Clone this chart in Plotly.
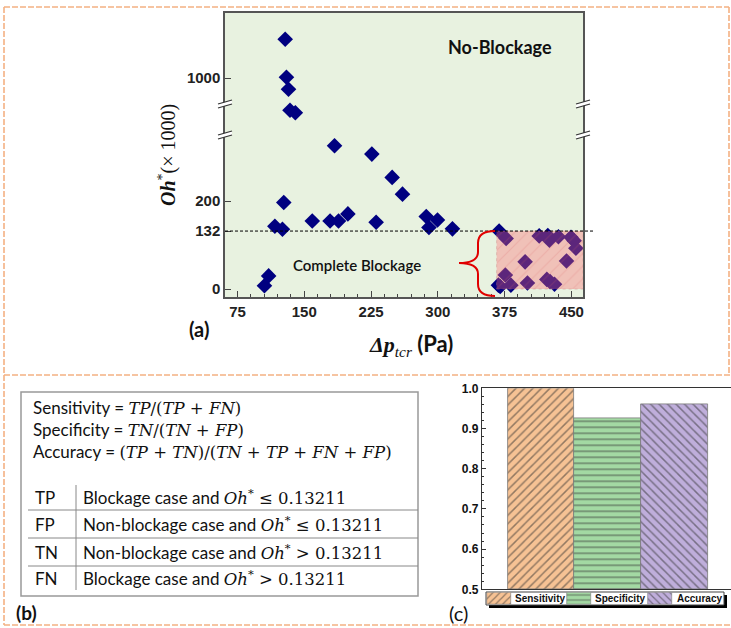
import numpy as np
import plotly.graph_objects as go

W, H = 731, 628

# ---------------- data: panel (a) ----------------
nonblock_dp = [128.6, 130.0, 132.3, 134.0, 140.0, 184.0, 225.9, 248.7, 260.3, 127.0,
               117.0, 125.5, 159.0, 179.0, 188.5, 199.0, 230.7, 287.0, 290.0, 299.6,
               316.4, 105.3, 110.0]
nonblock_oh = [1487, 1010, 859, 610, 583, 326, 307, 254, 216, 197,
               143, 136, 155, 155, 155, 171, 152, 165, 140, 157,
               137, 7.5, 30]
block_dp = [368.8, 376.7, 413.8, 423.5, 425.3, 435.4, 449.5, 453.0, 455.0, 398.0,
            444.5, 375.8, 368.0, 370.0, 382.0, 400.6, 422.4, 426.0, 431.0]
block_oh = [132, 115, 121, 122, 111, 119, 118, 110, 93, 62,
            64, 32, 9, 6, 9, 14, 22, 17, 11]
oh_threshold = 132
blockage_dp_min = 366
x_tick_vals = [75, 150, 225, 300, 375, 450]
y_tick_vals = [0, 132, 200, 1000]
y_tick_text = ["0", "132", "200", "1000"]

# ---------------- data: panel (c) ----------------
metrics = ["Sensitivity", "Specificity", "Accuracy"]
scores = [1.0, 0.925, 0.959]
bar_fill = ["#f6c294", "#a3d9a3", "#bfaedb"]
bar_pattern = ["/", "-", "\\"]

# ---------------- broken y-axis scale (piecewise linear) ----------------
AX_VAL = [0, 353, 700, 1000, 2000]
AX_POS = [0, 353, 425.6, 480, 661.3]


def yscale(v):
    return np.interp(np.asarray(v, dtype=float), AX_VAL, AX_POS)


X_RANGE = [61, 463]
Y_RANGE = [-18, 628]


def px(x):
    return x / W


def py(y):
    return 1 - y / H


fig = go.Figure()

# markers
fig.add_trace(go.Scatter(x=nonblock_dp, y=yscale(nonblock_oh), mode="markers",
                         marker=dict(symbol="diamond", size=12, color="#000080"),
                         showlegend=False, xaxis="x", yaxis="y"))
fig.add_trace(go.Scatter(x=block_dp, y=yscale(block_oh), mode="markers",
                         marker=dict(symbol="diamond", size=12, color="#000080"),
                         showlegend=False, xaxis="x", yaxis="y"))

# blockage region overlay (pink hatched)
rx = [blockage_dp_min, X_RANGE[1], X_RANGE[1], blockage_dp_min, blockage_dp_min]
ry = [Y_RANGE[0], Y_RANGE[0], oh_threshold, oh_threshold, Y_RANGE[0]]
fig.add_trace(go.Scatter(x=rx, y=yscale(ry), mode="lines", fill="toself",
                         line=dict(width=0.6, color="rgba(200,120,120,0.6)", dash="dot"),
                         fillcolor="rgba(255,105,115,0.36)",
                         fillpattern=dict(shape="/", bgcolor="rgba(255,105,115,0.36)",
                                          fgcolor="rgba(215,100,100,0.4)", size=9, solidity=0.12),
                         hoverinfo="skip", showlegend=False, xaxis="x", yaxis="y"))

# bars panel (c)
for i, (m, s) in enumerate(zip(metrics, scores)):
    fig.add_trace(go.Bar(x=[i], y=[s - 0.5], base=0.5, name=m, width=1, showlegend=False,
                         marker=dict(color=bar_fill[i], line=dict(color="#7a7a7a", width=0.8),
                                     pattern=dict(shape=bar_pattern[i], fgcolor="#303030",
                                                  bgcolor=bar_fill[i], size=6, solidity=0.25)),
                         xaxis="x2", yaxis="y2"))

# custom legend swatches for (c)
LEG_BOX = (486, 592, 724, 605)
swatch_left = [487, 567, 648]
swatch_w = 23.5
text_left = [513, 593, 675]
for i, m in enumerate(metrics):
    fig.add_trace(go.Bar(x=[swatch_left[i] + swatch_w / 2], y=[1], base=0, width=swatch_w,
                         showlegend=False, hoverinfo="skip",
                         marker=dict(color=bar_fill[i], line=dict(color="#7a7a7a", width=0.6),
                                     pattern=dict(shape=bar_pattern[i], fgcolor="#303030",
                                                  bgcolor=bar_fill[i], size=5, solidity=0.25)),
                         xaxis="x3", yaxis="y3"))

shapes = []
# green background of (a)
shapes.append(dict(type="rect", xref="x domain", yref="y domain", x0=0, x1=1, y0=0, y1=1,
                   fillcolor="#e8f2e0", line=dict(width=0), layer="below"))
# threshold dashed line
shapes.append(dict(type="line", xref="x domain", yref="y", x0=0, x1=(593 - 225) / 358,
                   y0=float(yscale(oh_threshold)), y1=float(yscale(oh_threshold)),
                   line=dict(color="black", width=1, dash="3px,2px")))

# break marks on y axes
for cx in (225, 583):
    for cy in (103, 134):
        pts = [(cx - 7, cy + 1), (cx + 7, cy - 3), (cx + 7, cy + 1), (cx - 7, cy + 5)]
        path = "M" + " L".join(f"{px(a):.5f},{py(b):.5f}" for a, b in pts) + " Z"
        shapes.append(dict(type="path", xref="paper", yref="paper", path=path,
                           fillcolor="white", line=dict(width=0)))
        for dy in (0, 4):
            shapes.append(dict(type="line", xref="paper", yref="paper",
                               x0=px(cx - 7), y0=py(cy + 1 + dy), x1=px(cx + 7), y1=py(cy - 3 + dy),
                               line=dict(color="#333", width=1.2)))

# red brace
bp = [("M", 495, 231), ("Q", 478, 231, 478, 243), ("L", 478, 252), ("Q", 478, 263, 459, 263),
      ("Q", 478, 263, 478, 274), ("L", 478, 284), ("Q", 478, 296, 495, 296)]
bpath = ""
for seg in bp:
    cmd = seg[0]
    coords = seg[1:]
    parts = [f"{px(coords[k]):.5f},{py(coords[k + 1]):.5f}" for k in range(0, len(coords), 2)]
    bpath += cmd + " ".join(parts) + " "
shapes.append(dict(type="path", xref="paper", yref="paper", path=bpath.strip(),
                   line=dict(color="#e00000", width=2)))

# dashed panel borders
dash_col = "#f4b183"
for (x0, y0, x1, y1) in [(4, 7, 729, 7), (4, 7, 4, 375), (729, 7, 729, 375), (4, 375, 731, 375),
                         (4, 375, 4, 625), (4, 625, 731, 625)]:
    shapes.append(dict(type="line", xref="paper", yref="paper", x0=px(x0), y0=py(y0),
                       x1=px(x1), y1=py(y1), line=dict(color=dash_col, width=1.6, dash="6px,2px")))

# table (b)
shapes.append(dict(type="rect", xref="paper", yref="paper", x0=px(21), y0=py(392), x1=px(418), y1=py(596),
                   line=dict(color="#999", width=1.5)))
for yy in (510, 538, 566):
    shapes.append(dict(type="line", xref="paper", yref="paper", x0=px(28), x1=px(418), y0=py(yy), y1=py(yy),
                       line=dict(color="#888", width=1)))
shapes.append(dict(type="line", xref="paper", yref="paper", x0=px(76), x1=px(76), y0=py(485), y1=py(590),
                   line=dict(color="#888", width=1)))

# legend box + shadow (c)
bx0, by0, bx1, by1 = LEG_BOX
shapes.append(dict(type="rect", xref="paper", yref="paper", x0=px(bx0 + 3), x1=px(bx1 + 3),
                   y0=py(by0 + 3), y1=py(by1 + 3), fillcolor="black", line=dict(width=0), layer="below"))
shapes.append(dict(type="rect", xref="paper", yref="paper", x0=px(bx0), x1=px(bx1),
                   y0=py(by0), y1=py(by1), fillcolor="white", line=dict(color="#444", width=1),
                   layer="below"))

ann = []
SANS = "Lato"
MATH = "DejaVu Serif"


def A(x, y, text, size, xanchor="center", family=SANS, weight="normal", angle=0, color="#111"):
    ann.append(dict(x=px(x), y=py(y), xref="paper", yref="paper", text=text, showarrow=False,
                    xanchor=xanchor, yanchor="middle", textangle=angle,
                    font=dict(size=size, family=family, weight=weight, color=color)))


A(500, 47, "No-Blockage", 18, weight="bold")
A(357, 265, "Complete Blockage", 15, weight=600)
A(199, 329, "(a)", 20, weight="bold")
A(167, 155, "<b><i>Oh</i></b><sup>*</sup>(× 1000)", 20, family="Liberation Serif", angle=-90)
A(411, 345, "<b><i>Δp</i></b><sub><i>tcr</i></sub><span style='font-family:Lato'><b> (Pa)</b></span>",
  22, family="Liberation Serif")

m = f"<span style='font-family:{MATH};font-size:16.5px'>"
A(31, 407, f"Sensitivity = {m}<i>TP</i>/(<i>TP</i> + <i>FN</i>)</span>", 17, xanchor="left")
A(31, 429, f"Specificity = {m}<i>TN</i>/(<i>TN</i> + <i>FP</i>)</span>", 17, xanchor="left")
A(31, 451, f"Accuracy = {m}(<i>TP</i> + <i>TN</i>)/(<i>TN</i> + <i>TP</i> + <i>FN</i> + <i>FP</i>)</span>", 17,
  xanchor="left")
rows = [("TP", "Blockage case and", "≤"), ("FP", "Non-blockage case and", "≤"),
        ("TN", "Non-blockage case and", ">"), ("FN", "Blockage case and", ">")]
for k, (lab, desc, op) in enumerate(rows):
    yy = [497, 524, 552, 578][k]
    A(33, yy, lab, 17, xanchor="left")
    A(81, yy, f"{desc} {m}<i>Oh</i><sup>*</sup> {op} 0.13211</span>", 17, xanchor="left")
A(26, 612, "(b)", 19, weight="bold")
A(458, 613, "(c)", 20)

for i, mname in enumerate(metrics):
    A(text_left[i], 598.5, mname, 10, xanchor="left", family="Liberation Sans", weight="bold")

fig.update_layout(
    width=W, height=H, autosize=False,
    margin=dict(l=0, r=0, t=0, b=0, pad=0, autoexpand=False),
    paper_bgcolor="white", plot_bgcolor="rgba(0,0,0,0)",
    shapes=shapes, annotations=ann,
    bargap=0, barmode="overlay", showlegend=False,
    xaxis=dict(domain=[px(225), px(583)], range=X_RANGE, tickvals=x_tick_vals,
               ticks="inside", ticklen=6, tickcolor="#444", showline=True, linecolor="#555", linewidth=1.5,
               mirror=True, showgrid=False, zeroline=False,
               tickfont=dict(family="Liberation Sans", size=15, weight="bold", color="#222"),
               minor=dict(dtick=15, tick0=75, ticks="inside", ticklen=3, tickcolor="#444"),
               anchor="y"),
    yaxis=dict(domain=[py(297), py(13)], range=Y_RANGE, tickvals=list(yscale(y_tick_vals)),
               ticktext=y_tick_text, ticks="inside", ticklen=6, tickcolor="#444",
               showline=True, linecolor="#555", linewidth=1.5, mirror=True, showgrid=False,
               zeroline=False, tickfont=dict(family="Liberation Sans", size=15, weight="bold", color="#222"),
               anchor="x"),
    xaxis2=dict(domain=[px(482), 1.0], range=[-0.885, 2.845], showticklabels=False, ticks="",
                showline=True, linecolor="#333", linewidth=1.2, mirror=True, showgrid=False,
                zeroline=False, anchor="y2"),
    yaxis2=dict(domain=[py(589.3), py(388.3)], range=[0.5, 1.0], dtick=0.1, tick0=0.5,
                tickformat=".1f", ticks="inside", ticklen=4, tickcolor="#333",
                showline=True, linecolor="#333", linewidth=1.2, showgrid=False, zeroline=False,
                tickfont=dict(family="Liberation Sans", size=12, weight="bold", color="#111"),
                minor=dict(dtick=0.02, ticks="inside", ticklen=2, tickcolor="#333"),
                anchor="x2"),
    xaxis3=dict(domain=[px(bx0), px(bx1)], range=[bx0, bx1], visible=False, anchor="y3"),
    yaxis3=dict(domain=[py(by1 - 0.5), py(by0 + 0.5)], range=[0, 1], visible=False, anchor="x3"),
)

fig.write_html("out.html")
